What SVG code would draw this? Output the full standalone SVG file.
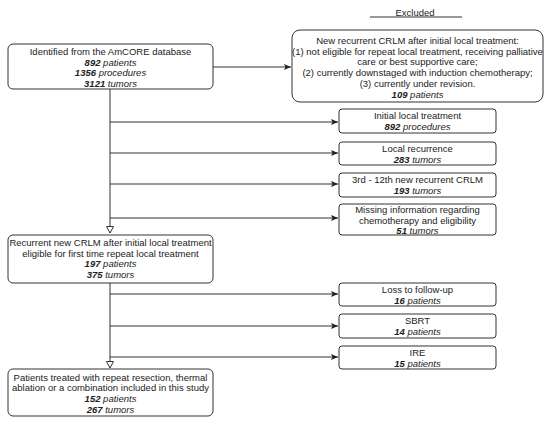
<svg xmlns="http://www.w3.org/2000/svg" width="550" height="424" viewBox="0 0 550 424">
<defs>
<marker id="fill" markerWidth="8" markerHeight="6" refX="7" refY="3" orient="auto" markerUnits="userSpaceOnUse">
<path d="M0,0 L7,3 L0,6 L1.5,3 Z" fill="#222"/>
</marker>
<marker id="open" markerWidth="10" markerHeight="8" refX="7" refY="4" orient="auto" markerUnits="userSpaceOnUse">
<path d="M0.5,0.5 L7,4 L0.5,7.5 Z" fill="#fff" stroke="#333" stroke-width="1"/>
</marker>
</defs>
<style>
text{font-family:"Liberation Sans",Arial,sans-serif;font-size:9.5px;fill:#222;text-anchor:middle}
.b{font-weight:bold;font-style:italic}
.i{font-style:italic}
.n{fill:#fff;stroke:#333;stroke-width:1}
.c{stroke:#333;stroke-width:1;fill:none}
</style>
<rect width="550" height="424" fill="#fff"/>
<g id="connectors">
<path class="c" d="M110,89 V233" marker-end="url(#open)"/>
<path class="c" d="M213,67 H291" marker-end="url(#fill)"/>
<path class="c" d="M110,122 H338" marker-end="url(#fill)"/>
<path class="c" d="M110,153 H338" marker-end="url(#fill)"/>
<path class="c" d="M110,184 H338" marker-end="url(#fill)"/>
<path class="c" d="M110,218 H338" marker-end="url(#fill)"/>
<path class="c" d="M110,283 V368" marker-end="url(#open)"/>
<path class="c" d="M110,294 H338" marker-end="url(#fill)"/>
<path class="c" d="M110,326 H338" marker-end="url(#fill)"/>
<path class="c" d="M110,357 H338" marker-end="url(#fill)"/>
</g>
<g id="excluded-label">
<text x="415" y="16">Excluded</text>
<line x1="370" y1="17" x2="462" y2="17" stroke="#333" stroke-width="1"/>
</g>
<g id="identified">
<rect class="n" x="8" y="44" width="205" height="45" rx="5"/>
<text x="110.5" y="55">Identified from the AmCORE database</text>
<text x="110.5" y="65.5"><tspan class="b">892</tspan> <tspan class="i">patients</tspan></text>
<text x="110.5" y="76"><tspan class="b">1356</tspan> <tspan class="i">procedures</tspan></text>
<text x="110.5" y="86.5"><tspan class="b">3121</tspan> <tspan class="i">tumors</tspan></text>
</g>
<g id="new-recurrent">
<rect class="n" x="292" y="30" width="251" height="72" rx="8"/>
<text x="417.5" y="44">New recurrent CRLM after initial local treatment:</text>
<text x="417.5" y="54.5">(1) not eligible for repeat local treatment, receiving palliative</text>
<text x="417.5" y="65">care or best supportive care;</text>
<text x="417.5" y="76">(2) currently downstaged with induction chemotherapy;</text>
<text x="417.5" y="86.5">(3) currently under revision.</text>
<text x="417.5" y="97.5"><tspan class="b">109</tspan> <tspan class="i">patients</tspan></text>
</g>
<g id="initial-local">
<rect class="n" x="339" y="109" width="157" height="24" rx="3"/>
<text x="417.5" y="119">Initial local treatment</text>
<text x="417.5" y="130"><tspan class="b">892</tspan> <tspan class="i">procedures</tspan></text>
</g>
<g id="local-recurrence">
<rect class="n" x="339" y="142" width="157" height="23" rx="3"/>
<text x="417.5" y="151.5">Local recurrence</text>
<text x="417.5" y="162.5"><tspan class="b">283</tspan> <tspan class="i">tumors</tspan></text>
</g>
<g id="third-twelfth">
<rect class="n" x="339" y="173" width="157" height="24" rx="3"/>
<text x="417.5" y="183">3rd - 12th new recurrent CRLM</text>
<text x="417.5" y="194"><tspan class="b">193</tspan> <tspan class="i">tumors</tspan></text>
</g>
<g id="missing-info">
<rect class="n" x="339" y="204" width="157" height="31" rx="3"/>
<text x="417.5" y="213">Missing information regarding</text>
<text x="417.5" y="223.5">chemotherapy and eligibility</text>
<text x="417.5" y="234"><tspan class="b">51</tspan> <tspan class="i">tumors</tspan></text>
</g>
<g id="recurrent-eligible">
<rect class="n" x="8" y="235" width="205" height="48" rx="5"/>
<text x="110.5" y="246">Recurrent new CRLM after initial local treatment</text>
<text x="110.5" y="256.5">eligible for first time repeat local treatment</text>
<text x="110.5" y="267"><tspan class="b">197</tspan> <tspan class="i">patients</tspan></text>
<text x="110.5" y="278"><tspan class="b">375</tspan> <tspan class="i">tumors</tspan></text>
</g>
<g id="loss-follow-up">
<rect class="n" x="339" y="283" width="157" height="23" rx="3"/>
<text x="417.5" y="292.5">Loss to follow-up</text>
<text x="417.5" y="303.5"><tspan class="b">16</tspan> <tspan class="i">patients</tspan></text>
</g>
<g id="sbrt">
<rect class="n" x="339" y="314" width="157" height="24" rx="3"/>
<text x="417.5" y="324">SBRT</text>
<text x="417.5" y="335"><tspan class="b">14</tspan> <tspan class="i">patients</tspan></text>
</g>
<g id="ire">
<rect class="n" x="339" y="346" width="157" height="23" rx="3"/>
<text x="417.5" y="355.5">IRE</text>
<text x="417.5" y="366.5"><tspan class="b">15</tspan> <tspan class="i">patients</tspan></text>
</g>
<g id="treated">
<rect class="n" x="8" y="369" width="205" height="47" rx="5"/>
<text x="110.5" y="380.5">Patients treated with repeat resection, thermal</text>
<text x="110.5" y="391">ablation or a combination included in this study</text>
<text x="110.5" y="402"><tspan class="b">152</tspan> <tspan class="i">patients</tspan></text>
<text x="110.5" y="412.5"><tspan class="b">267</tspan> <tspan class="i">tumors</tspan></text>
</g>
</svg>
